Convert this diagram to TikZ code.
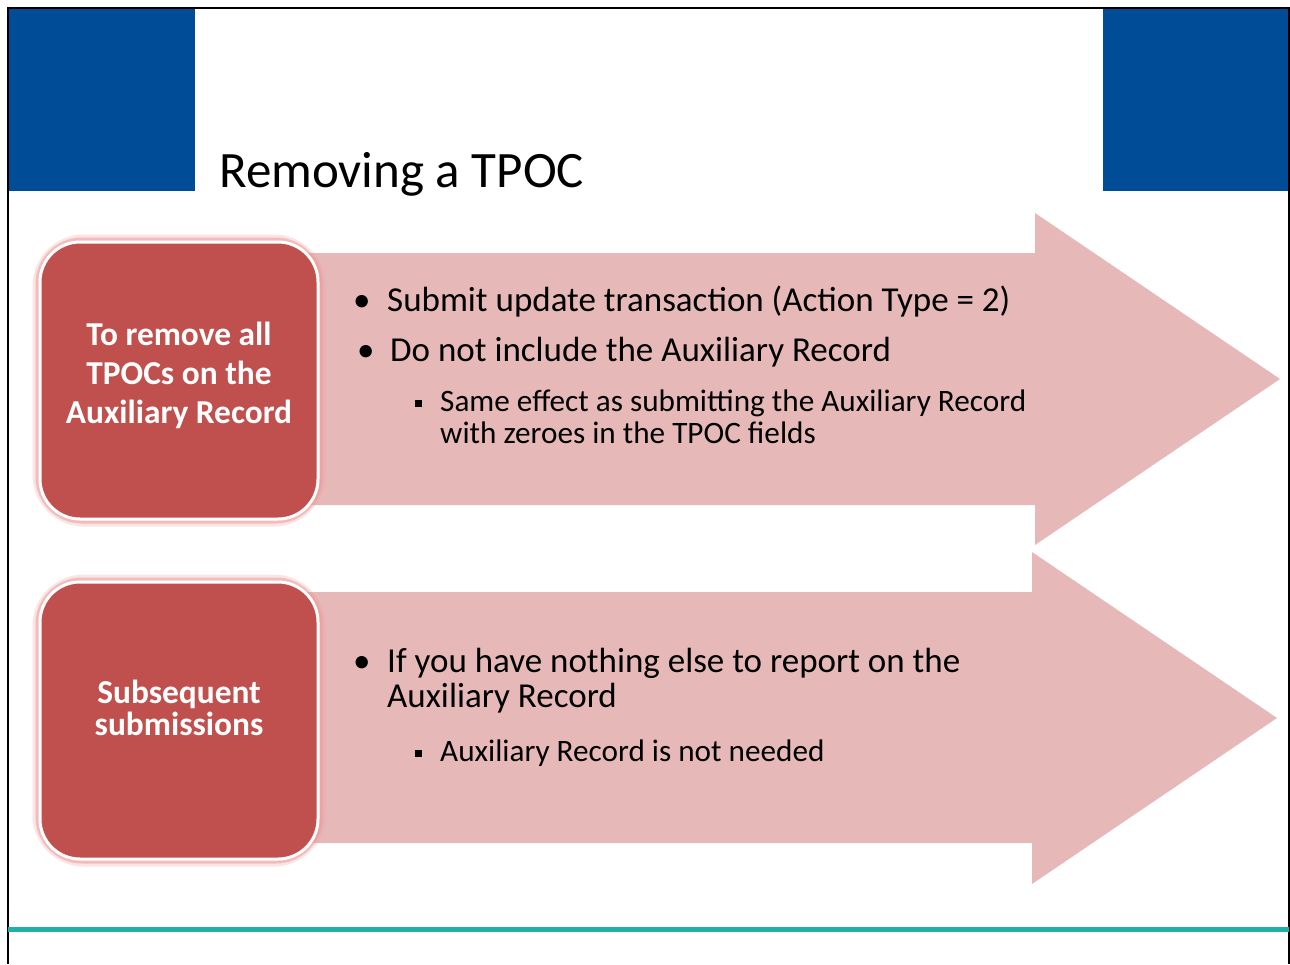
\documentclass[tikz,border=0pt]{standalone}
\usepackage{fontspec}
\setmainfont{Carlito}
\usetikzlibrary{positioning}

\definecolor{SlideBlue}{RGB}{0,76,151}
\definecolor{BoxRed}{RGB}{192,80,77}
\definecolor{ArrowPink}{RGB}{230,185,184}
\definecolor{GlowPink}{RGB}{238,150,150}
\definecolor{LineTeal}{RGB}{31,176,168}

\begin{document}
\begin{tikzpicture}[x=1pt,y=-1pt,every node/.style={inner sep=0pt},
  bullet/.style={anchor=base west,font=\fontsize{35}{40}\selectfont},
  subbullet/.style={anchor=base west,font=\fontsize{31.2}{36}\selectfont},
  boxtext/.style={align=center,text=white,font=\bfseries\fontsize{33.4}{39}\selectfont}]
\useasboundingbox (0,0) rectangle (1290,964);
\fill[white] (0,0) rectangle (1290,964);

% header
\fill[SlideBlue] (8,8) rectangle (195,191);
\fill[SlideBlue] (1103,8) rectangle (1289,191);
\draw[line width=1.5pt] (8,964) -- (8,8) -- (1289,8) -- (1289,964);
\node[anchor=base west,font=\fontsize{51}{60}\selectfont] (title) at (219,187) {Removing a TPOC};

% arrows
\fill[ArrowPink] (300,253) -- (1035,253) -- (1035,213) -- (1280,379) -- (1035,545) -- (1035,505) -- (300,505) -- cycle;
\fill[ArrowPink] (300,592) -- (1032,592) -- (1032,552) -- (1277,718) -- (1032,884) -- (1032,843) -- (300,843) -- cycle;

% boxes with glow
\foreach \y in {242,582} {
  \draw[GlowPink,line width=15pt,opacity=0.25,rounded corners=44pt] (40,\y) rectangle ++(278,277);
  \draw[GlowPink,line width=9pt,opacity=0.5,rounded corners=42pt] (40,\y) rectangle ++(278,277);
  \draw[white,line width=3pt,fill=BoxRed,rounded corners=40pt] (40,\y) rectangle ++(278,277);
}
\node[boxtext] (remove) at (179,375) {To remove all\\TPOCs on the\\Auxiliary Record};
\node[boxtext,font=\bfseries\fontsize{33.4}{32}\selectfont] (subseq) at (179,708) {Subsequent\\submissions};

% first arrow text
\node[bullet] (dot1) at (353,311) {•};
\node[bullet] (update) at (387,311) {Submit update transaction (Action Type = 2)};
\node[bullet] (dot2) at (357,361) {•};
\node[bullet] (noaux) at (390,361) {Do not include the Auxiliary Record};
\node[subbullet] (sq1) at (415,411) {\rule[4pt]{7pt}{7pt}};
\node[subbullet] (effect) at (440,411) {Same effect as submitting the Auxiliary Record};
\node[subbullet] (zeroes) at (440,443) {with zeroes in the TPOC fields};

% second arrow text
\node[bullet] (dot3) at (353,672) {•};
\node[bullet] (nothing) at (387,672) {If you have nothing else to report on the};
\node[bullet] (auxrec) at (387,707) {Auxiliary Record};
\node[subbullet] (sq2) at (415,761) {\rule[4pt]{7pt}{7pt}};
\node[subbullet] (notneeded) at (440,761) {Auxiliary Record is not needed};

% footer line
\draw[LineTeal,line width=5pt] (8,929) -- (1289,929);
\end{tikzpicture}
\end{document}
